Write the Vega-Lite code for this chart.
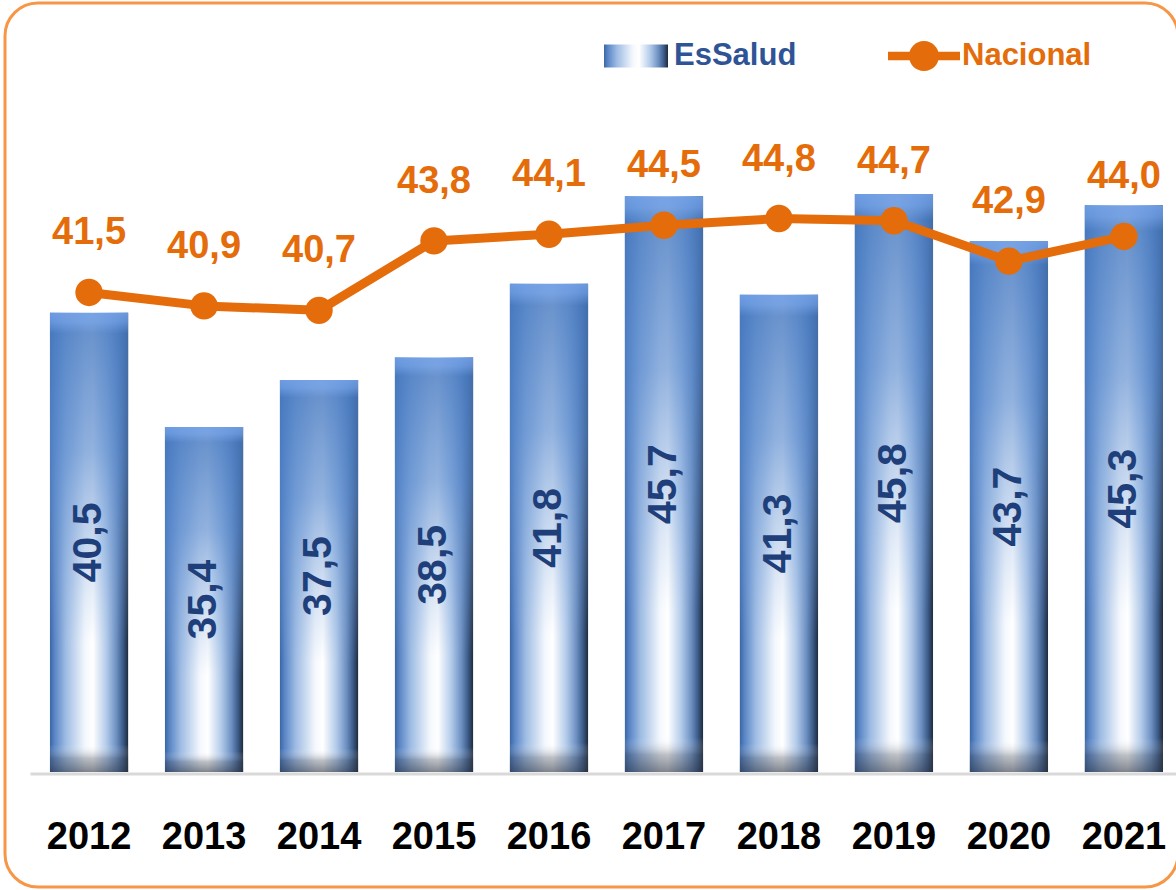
{
  "$schema": "https://vega.github.io/schema/vega-lite/v6.json",
  "autosize": {"type": "none"},
  "padding": {"left": 5, "top": 3, "right": 0, "bottom": 3},
  "width": 1173,
  "height": 884,
  "background": "white",
  "config": {
    "view": {"stroke": "#F79646", "strokeWidth": 3, "cornerRadius": 33, "fill": "white"},
    "locale": {"number": {"decimal": ",", "thousands": ".", "grouping": [3], "currency": ["", " €"]}}
  },
  "data": {
    "values": [
      {"year": "2012", "EsSalud": 40.5, "Nacional": 41.5},
      {"year": "2013", "EsSalud": 35.4, "Nacional": 40.9},
      {"year": "2014", "EsSalud": 37.5, "Nacional": 40.7},
      {"year": "2015", "EsSalud": 38.5, "Nacional": 43.8},
      {"year": "2016", "EsSalud": 41.8, "Nacional": 44.1},
      {"year": "2017", "EsSalud": 45.7, "Nacional": 44.5},
      {"year": "2018", "EsSalud": 41.3, "Nacional": 44.8},
      {"year": "2019", "EsSalud": 45.8, "Nacional": 44.7},
      {"year": "2020", "EsSalud": 43.7, "Nacional": 42.9},
      {"year": "2021", "EsSalud": 45.3, "Nacional": 44.0}
    ]
  },
  "encoding": {
    "x": {
      "field": "year",
      "type": "nominal",
      "sort": null,
      "scale": {"range": [25, 1173], "paddingInner": 0.32, "paddingOuter": 0.152, "align": 0.571},
      "axis": {
        "title": null, "orient": "bottom", "offset": -113.5, "labelAngle": 0,
        "ticks": false, "tickSize": 0, "grid": false,
        "domainColor": "#D9D9D9", "domainWidth": 3,
        "labelFont": "Liberation Sans, Arial, sans-serif",
        "labelFontSize": 38, "labelFontWeight": "bold", "labelColor": "#000000",
        "labelPadding": 74.5, "labelBaseline": "alphabetic"
      }
    }
  },
  "layer": [
    {
      "mark": {
        "type": "bar",
        "fill": {
          "gradient": "linear", "x1": 0, "y1": 0, "x2": 1, "y2": 0,
          "stops": [
            {"offset": 0, "color": "#3B66A6"},
            {"offset": 0.06, "color": "#5A86C6"},
            {"offset": 0.2, "color": "#9DBBE3"},
            {"offset": 0.45, "color": "#F4F8FD"},
            {"offset": 0.55, "color": "#FFFFFF"},
            {"offset": 0.72, "color": "#B3CBEA"},
            {"offset": 0.85, "color": "#6D90C2"},
            {"offset": 0.93, "color": "#3E5E8C"},
            {"offset": 1, "color": "#1E2B3D"}
          ]
        }
      },
      "encoding": {
        "y": {"field": "EsSalud", "type": "quantitative", "scale": {"domain": [14.866, 54.33], "nice": false, "zero": false}, "axis": null},
        "y2": {"datum": 20},
        "opacity": {
          "datum": "EsSalud",
          "type": "nominal",
          "scale": {"domain": ["EsSalud"], "range": [1, 1]},
          "legend": {
            "orient": "none", "legendX": 599, "legendY": 21, "title": null, "padding": 0,
            "symbolType": "M-1,-0.36H1V0.36H-1Z", "symbolSize": 4096, "symbolStrokeWidth": 0,
            "labelFont": "Liberation Sans, Arial, sans-serif",
            "labelFontSize": 31, "labelFontWeight": "bold", "labelOffset": 6, "labelColor": "#2F5496"
          }
        }
      }
    },
    {
      "mark": {
        "type": "bar",
        "fill": {
          "gradient": "linear", "x1": 0, "y1": 0, "x2": 0, "y2": 1,
          "stops": [
            {"offset": 0, "color": "rgba(112,158,228,0.95)"},
            {"offset": 0.02, "color": "rgba(105,152,222,0.9)"},
            {"offset": 0.045, "color": "rgba(74,124,194,0.82)"},
            {"offset": 0.3, "color": "rgba(88,137,205,0.65)"},
            {"offset": 0.72, "color": "rgba(130,168,220,0)"},
            {"offset": 0.94, "color": "rgba(255,255,255,0)"},
            {"offset": 0.97, "color": "rgba(70,76,88,0.35)"},
            {"offset": 1, "color": "rgba(45,52,66,0.6)"}
          ]
        }
      },
      "encoding": {
        "y": {"field": "EsSalud", "type": "quantitative", "scale": {"domain": [14.866, 54.33], "nice": false, "zero": false}, "axis": null},
        "y2": {"datum": 20}
      }
    },
    {
      "mark": {
        "type": "text", "angle": 270, "align": "center", "baseline": "middle",
        "font": "Liberation Sans, Arial, sans-serif", "fontSize": 41, "fontWeight": "bold", "fill": "#1E3F7A"
      },
      "encoding": {
        "y": {"field": "EsSalud", "type": "quantitative", "scale": {"domain": [9.732, 88.66], "nice": false, "zero": false}, "axis": null},
        "text": {"field": "EsSalud", "type": "quantitative", "format": ".1f"}
      }
    },
    {
      "mark": {"type": "line", "strokeWidth": 9, "strokeCap": "round", "strokeJoin": "round"},
      "encoding": {
        "y": {"field": "Nacional", "type": "quantitative", "scale": {"domain": [14.96, 54.42], "nice": false, "zero": false}, "axis": null},
        "color": {
          "datum": "Nacional",
          "type": "nominal",
          "scale": {"domain": ["Nacional"], "range": ["#E46C0A"]},
          "legend": {
            "orient": "none", "legendX": 887, "legendY": 21, "title": null, "padding": 0,
            "symbolType": "M-1.125,-0.13H1.125V0.13H-1.125Z M0.47,0A0.47,0.47,0,1,1,-0.47,0A0.47,0.47,0,1,1,0.47,0Z",
            "symbolSize": 4096, "symbolStrokeWidth": 0, "symbolFillColor": "#E46C0A",
            "labelFont": "Liberation Sans, Arial, sans-serif",
            "labelFontSize": 31, "labelFontWeight": "bold", "labelOffset": 6, "labelColor": "#E46C0A"
          }
        }
      }
    },
    {
      "mark": {"type": "point", "filled": true, "size": 750, "opacity": 1},
      "encoding": {
        "y": {"field": "Nacional", "type": "quantitative", "scale": {"domain": [14.96, 54.42], "nice": false, "zero": false}, "axis": null},
        "color": {"datum": "Nacional", "type": "nominal"}
      }
    },
    {
      "mark": {
        "type": "text", "align": "center", "baseline": "alphabetic", "dy": -48,
        "font": "Liberation Sans, Arial, sans-serif", "fontSize": 38, "fontWeight": "bold", "fill": "#E46C0A"
      },
      "encoding": {
        "y": {"field": "Nacional", "type": "quantitative", "scale": {"domain": [14.96, 54.42], "nice": false, "zero": false}, "axis": null},
        "text": {"field": "Nacional", "type": "quantitative", "format": ".1f"}
      }
    }
  ],
  "resolve": {"scale": {"y": "independent"}}
}
